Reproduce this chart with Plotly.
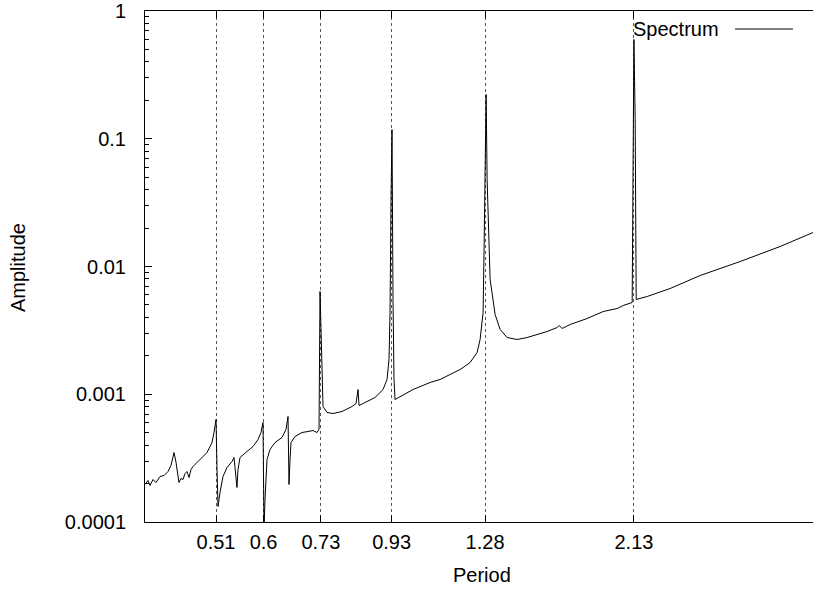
import plotly.graph_objects as go

# Spectrum samples (period, amplitude)
period = [
    0.4000, 0.4041, 0.4069, 0.4111, 0.4153, 0.4211, 0.4269, 0.4327, 0.4372, 0.4402,
    0.4417, 0.4448, 0.4493, 0.4524, 0.4555, 0.4587, 0.4618, 0.4650, 0.4682, 0.4714,
    0.4779, 0.4828, 0.4894, 0.4945, 0.4996, 0.5030, 0.5065, 0.5100, 0.5117, 0.5135,
    0.5170, 0.5223, 0.5295, 0.5387, 0.5424, 0.5461, 0.5479, 0.5498, 0.5536, 0.5670,
    0.5788, 0.5888, 0.5948, 0.5989, 0.6010, 0.6030, 0.6072, 0.6134, 0.6240, 0.6391,
    0.6479, 0.6524, 0.6546, 0.6569, 0.6591, 0.6682, 0.6844, 0.6986, 0.7106, 0.7204,
    0.7254, 0.7279, 0.7304, 0.7329, 0.7354, 0.7455, 0.7610, 0.7848, 0.8121, 0.8233,
    0.8261, 0.8289, 0.8318, 0.8490, 0.8786, 0.9029, 0.9154, 0.9216, 0.9248, 0.9280,
    0.9311, 0.9343, 0.9375, 0.9408, 0.9570, 1.0005, 1.0606, 1.0975, 1.1357, 1.1753,
    1.2162, 1.2457, 1.2585, 1.2715, 1.2759, 1.2803, 1.2847, 1.2891, 1.3024, 1.3248,
    1.3477, 1.3804, 1.4284, 1.4782, 1.5297, 1.5830, 1.6381, 1.6493, 1.6663, 1.7126,
    1.8151, 1.9173, 2.0114, 2.0531, 2.1173, 2.1245, 2.1300, 2.1391, 2.1465, 2.2288,
    2.4107, 2.6715, 3.0630, 3.5118, 3.9302,
]
amplitude = [
    1.966e-4, 2.113e-4, 1.931e-4, 2.151e-4, 2.038e-4, 2.271e-4, 2.312e-4, 2.485e-4, 2.769e-4, 3.377e-4,
    3.499e-4, 2.923e-4, 2.038e-4, 2.190e-4, 2.151e-4, 2.397e-4, 2.485e-4, 2.230e-4, 2.576e-4, 2.719e-4,
    2.923e-4, 3.085e-4, 3.315e-4, 3.499e-4, 3.899e-4, 4.191e-4, 5.019e-4, 6.343e-4, 2.576e-4, 1.322e-4,
    1.702e-4, 2.271e-4, 2.671e-4, 2.976e-4, 3.198e-4, 2.354e-4, 1.863e-4, 2.576e-4, 3.198e-4, 3.564e-4,
    3.899e-4, 4.423e-4, 5.019e-4, 6.009e-4, 8.740e-5, 1.500e-4, 3.085e-4, 3.693e-4, 4.191e-4, 4.585e-4,
    5.298e-4, 6.695e-4, 1.966e-4, 3.085e-4, 4.191e-4, 4.669e-4, 5.019e-4, 5.109e-4, 5.202e-4, 5.019e-4,
    5.298e-4, 6.372e-3, 3.213e-3, 1.305e-3, 8.020e-4, 7.195e-4, 7.067e-4, 7.328e-4, 8.020e-4, 8.467e-4,
    9.432e-4, 1.089e-3, 8.165e-4, 8.620e-4, 9.432e-4, 1.089e-3, 1.305e-3, 1.871e-3, 4.364e-3, 3.346e-2,
    1.181e-1, 5.516e-3, 1.305e-3, 9.097e-4, 9.603e-4, 1.089e-3, 1.236e-3, 1.305e-3, 1.428e-3, 1.562e-3,
    1.772e-3, 2.122e-3, 2.683e-3, 4.364e-3, 1.434e-2, 4.797e-2, 2.220e-1, 4.797e-2, 7.910e-3, 4.210e-3,
    3.213e-3, 2.781e-3, 2.683e-3, 2.781e-3, 2.936e-3, 3.099e-3, 3.330e-3, 3.452e-3, 3.271e-3, 3.516e-3,
    3.917e-3, 4.443e-3, 4.690e-3, 4.951e-3, 5.226e-3, 1.415e-1, 5.980e-1, 1.415e-1, 5.516e-3, 5.824e-3,
    6.726e-3, 8.503e-3, 1.094e-2, 1.434e-2, 1.845e-2,
]

x_tick_vals = [0.51, 0.6, 0.73, 0.93, 1.28, 2.13]
x_tick_text = ["0.51", "0.6", "0.73", "0.93", "1.28", "2.13"]
y_tick_vals = [1e-4, 1e-3, 1e-2, 1e-1, 1]
y_tick_text = ["0.0001", "0.001", "0.01", "0.1", "1"]
y_minor = [m * 10.0 ** e for e in range(-4, 0) for m in range(2, 10)]

FONT = "Liberation Sans, Arial, Helvetica, sans-serif"

fig = go.Figure()
fig.add_trace(go.Scatter(
    x=period, y=amplitude, mode="lines",
    line=dict(color="black", width=1),
    name="Spectrum", showlegend=False,
))

fig.update_layout(
    width=813, height=590, autosize=False,
    margin=dict(l=145, r=0, t=11, b=68, autoexpand=False),
    paper_bgcolor="white", plot_bgcolor="white",
    font=dict(family=FONT, size=20, color="black"),
    showlegend=False,
)

fig.update_xaxes(
    type="log", automargin=False,
    range=[-0.39794, 0.59439],
    tickmode="array", tickvals=x_tick_vals, ticktext=x_tick_text,
    ticks="inside", ticklen=7, tickwidth=1, tickcolor="black",
    ticklabelstandoff=2,
    showline=True, linecolor="black", linewidth=1, mirror="ticks",
    showgrid=True, gridcolor="#555555", griddash="dot", gridwidth=1,
    zeroline=False,
    tickfont=dict(family=FONT, size=20, color="black"),
)
fig.update_yaxes(
    type="log", automargin=False,
    range=[-4, 0],
    tickmode="array", tickvals=y_tick_vals, ticktext=y_tick_text,
    ticks="inside", ticklen=7, tickwidth=1, tickcolor="black",
    ticklabelstandoff=14,
    minor=dict(tickmode="array", tickvals=y_minor, ticks="inside", ticklen=4,
               tickcolor="black", tickwidth=1, showgrid=False),
    showline=True, linecolor="black", linewidth=1, mirror=False,
    showgrid=False, zeroline=False,
    tickfont=dict(family=FONT, size=20, color="black"),
)

pw, ph = 668.0, 511.0
def px(xp):
    return (xp - 145) / pw
def py(yp):
    return (522 - yp) / ph

fig.add_annotation(text="Amplitude", xref="paper", yref="paper",
                   x=px(18), y=py(268), showarrow=False, textangle=-90,
                   xanchor="center", yanchor="middle",
                   font=dict(family=FONT, size=20, color="black"))
fig.add_annotation(text="Period", xref="paper", yref="paper",
                   x=px(482), y=py(575), showarrow=False,
                   xanchor="center", yanchor="middle",
                   font=dict(family=FONT, size=20, color="black"))
fig.add_annotation(text="Spectrum", xref="paper", yref="paper",
                   x=px(721), y=py(29), showarrow=False,
                   xanchor="right", yanchor="middle",
                   font=dict(family=FONT, size=20, color="black"))
fig.add_shape(type="line", xref="paper", yref="paper",
              x0=px(735), x1=px(793), y0=py(29), y1=py(29),
              line=dict(color="black", width=1))

fig.write_html(
    "out.html",
    config={"responsive": False, "displayModeBar": False},
    post_script="document.body.style.margin='0px';document.body.style.overflow='hidden';",
)
